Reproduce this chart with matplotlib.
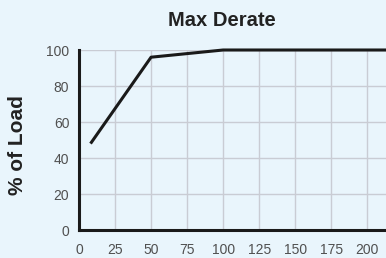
import matplotlib
matplotlib.use("Agg")
import matplotlib.pyplot as plt
from matplotlib import font_manager

# data
load_x = [8, 50, 100, 215]
pct_load = [48, 96, 100, 100]
x_ticks = [0, 25, 50, 75, 100, 125, 150, 175, 200]
y_ticks = [0, 20, 40, 60, 80, 100]

names = {f.name for f in font_manager.fontManager.ttflist}
narrow = "Liberation Sans Narrow" if "Liberation Sans Narrow" in names else "Liberation Sans"
plt.rcParams['font.family'] = [narrow, 'DejaVu Sans']

bg = "#e9f5fc"
fig = plt.figure(figsize=(3.86, 2.58), dpi=100, facecolor=bg)
ax = fig.add_axes([79 / 386, 28 / 258, 1 - 79 / 386, 180 / 258])
ax.set_facecolor(bg)

ax.plot(load_x, pct_load, color="#1a1a1a", linewidth=2.2, solid_capstyle="butt", clip_on=False)

ax.set_xlim(0, 213)
ax.set_ylim(0, 100)
ax.set_xticks(x_ticks)
ax.set_yticks(y_ticks)
ax.grid(True, color="#c9ccd4", linewidth=1.0)
ax.set_axisbelow(True)

for s in ["top", "right"]:
    ax.spines[s].set_visible(False)
for s in ["left", "bottom"]:
    ax.spines[s].set_linewidth(2.2)
    ax.spines[s].set_color("#1a1a1a")

ax.tick_params(length=0, labelsize=10, labelcolor="#505050")
ax.tick_params(axis="x", pad=9)
ax.tick_params(axis="y", pad=7)

fig.text(222 / 386, 1 - 20 / 258, "Max Derate", ha="center", va="center",
         fontsize=14.5, fontweight="bold", color="#222222", family=["Liberation Sans", "DejaVu Sans"])
fig.text(18 / 386, 1 - 145 / 258, "% of Load", ha="center", va="center", rotation=90,
         fontsize=15, fontweight="bold", color="#222222", family=["Liberation Sans", "DejaVu Sans"])

fig.savefig("out.png", dpi=100, facecolor=bg)
